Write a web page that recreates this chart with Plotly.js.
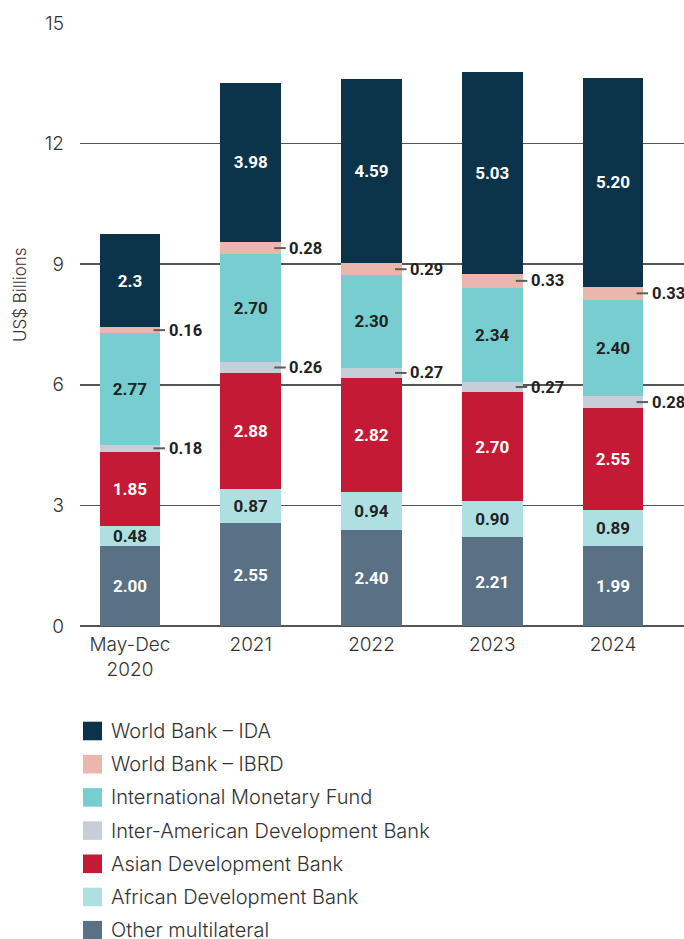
<!DOCTYPE html>
<html>
<head>
<meta charset="utf-8">
<script src="https://cdn.plot.ly/plotly-3.0.1.min.js"></script>
<style>html,body{margin:0;padding:0;background:#fff;}#chart{width:684px;height:939px;}</style>
</head>
<body>
<div id="chart"></div>
<script>
// ---- Data ----
const categories = ['May-Dec<br>2020', '2021', '2022', '2023', '2024'];
const seriesNames = ['Other multilateral', 'African Development Bank', 'Asian Development Bank',
  'Inter-American Development Bank', 'International Monetary Fund', 'World Bank – IBRD', 'World Bank – IDA'];
const otherMultilateral = [2.00, 2.55, 2.40, 2.21, 1.99];
const africanDB = [0.48, 0.87, 0.94, 0.90, 0.89];
const asianDB = [1.85, 2.88, 2.82, 2.70, 2.55];
const interAmericanDB = [0.18, 0.26, 0.27, 0.27, 0.28];
const imf = [2.77, 2.70, 2.30, 2.34, 2.40];
const wbIBRD = [0.16, 0.28, 0.29, 0.33, 0.33];
const wbIDA = [2.3, 3.98, 4.59, 5.03, 5.20];
const idaLabels = ['2.3', '3.98', '4.59', '5.03', '5.20'];

// ---- Styles ----
const colors = ['#5a7085', '#aee0e1', '#c41a35', '#c8ced7', '#78cdd0', '#ebb6ab', '#0b344b'];
const textColors = ['#ffffff', '#222222', '#ffffff', null, '#222222', null, '#ffffff'];
const FONT = 'Roboto, "DejaVu Sans", sans-serif';
const LFONT = 'Inter, Roboto, "DejaVu Sans", sans-serif';

const seriesValues = [otherMultilateral, africanDB, asianDB, interAmericanDB, imf, wbIBRD, wbIDA];
const outsideLabel = [false, false, false, true, false, true, false];

const traces = seriesValues.map((vals, s) => {
  const labels = s === 6 ? idaLabels : vals.map(v => v.toFixed(2));
  return {
    type: 'bar',
    name: seriesNames[s],
    x: categories,
    y: vals,
    marker: {color: colors[s], line: {width: 0}},
    text: outsideLabel[s] ? undefined : labels,
    textposition: outsideLabel[s] ? 'none' : 'inside',
    insidetextanchor: 'middle',
    textfont: {family: FONT, size: 17, color: textColors[s] || '#222', weight: 'bold'},
    showlegend: false,
    hoverinfo: 'skip'
  };
});

// outside labels with leader lines
const annotations = [];
const shapes = [];
const cum = categories.map(() => 0);
seriesValues.forEach((vals, s) => {
  vals.forEach((v, i) => {
    const mid = cum[i] + v / 2;
    if (outsideLabel[s]) {
      shapes.push({type: 'line', xref: 'x', yref: 'y', x0: i + 0.195, x1: i + 0.29, y0: mid, y1: mid,
        line: {color: '#5c5c5c', width: 2}});
      annotations.push({xref: 'x', yref: 'y', x: i + 0.303, y: mid, xanchor: 'left', yanchor: 'middle',
        text: v.toFixed(2), showarrow: false,
        font: {family: FONT, size: 16.5, color: '#222', weight: 'bold'}});
    }
    cum[i] += v;
  });
});

// manual legend (top to bottom: IDA ... Other)
const L = 80, T = 23, W = 604, H = 603;
const px2x = px => (px - L) / W;
const py2y = py => (T + H - py) / H;
for (let k = 0; k < seriesNames.length; k++) {
  const s = seriesNames.length - 1 - k;
  const cy = 731 + k * 33.2;
  shapes.push({type: 'rect', xref: 'paper', yref: 'paper', x0: px2x(83), x1: px2x(102),
    y0: py2y(cy + 9.3), y1: py2y(cy - 9.3), fillcolor: colors[s], line: {width: 0}});
  annotations.push({xref: 'paper', yref: 'paper', x: px2x(110), y: py2y(cy), xanchor: 'left', yanchor: 'middle',
    height: 22, borderpad: 0,
    text: seriesNames[s], showarrow: false, font: {family: LFONT, size: 20, color: '#333', weight: 300}});
}

// y axis title
annotations.push({xref: 'paper', yref: 'paper', x: px2x(20), y: py2y(295), xanchor: 'center', yanchor: 'middle',
  text: 'US$ Billions', textangle: -90, showarrow: false, font: {family: LFONT, size: 17, color: '#333', weight: 300}});

const layout = {
  width: 684, height: 939,
  margin: {l: L, r: 0, t: T, b: 939 - T - H},
  paper_bgcolor: '#fff', plot_bgcolor: '#fff',
  barmode: 'stack', bargap: 0.495,
  showlegend: false,
  uniformtext: {minsize: 17, mode: 'show'},
  font: {family: FONT, color: '#333'},
  xaxis: {
    type: 'category', range: [-0.414, 4.588], showgrid: false, zeroline: false, showline: false,
    ticks: '', tickfont: {family: LFONT, size: 19, color: '#333', weight: 300}, ticklabelstandoff: 5, fixedrange: true
  },
  yaxis: {
    range: [0, 15], tickvals: [0, 3, 6, 9, 12, 15], showgrid: true, gridcolor: '#555', gridwidth: 1.5,
    zeroline: true, zerolinecolor: '#555', zerolinewidth: 1.5, showline: false, ticks: '',
    tickfont: {family: LFONT, size: 19, color: '#333', weight: 300}, ticklabelstandoff: 15, fixedrange: true
  },
  shapes: shapes,
  annotations: annotations
};

Plotly.newPlot('chart', traces, layout, {displayModeBar: false, staticPlot: true});
</script>
</body>
</html>
